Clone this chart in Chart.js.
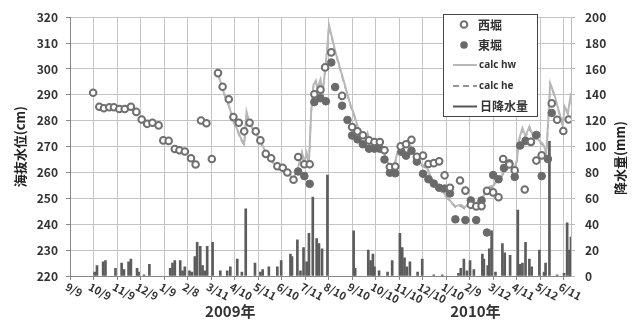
<!DOCTYPE html>
<html><head><meta charset="utf-8">
<script src="https://cdn.jsdelivr.net/npm/chart.js@4"></script>
<style>html,body{margin:0;padding:0;background:#fff;}</style>
</head><body>
<canvas id="c" width="640" height="320"></canvas>
<script>
// x values are days counted from 2008-09-09
const tickDays = [0,30,61,91,122,152,183,213,244,274,305,335,366,396,427,457,488,518,549,579,610,640];
const tickLabels = ['9/9','10/9','11/9','12/9','1/9','2/8','3/11','4/10','5/11','6/10','7/11','8/10','9/10','10/10','11/10','12/10','1/10','2/9','3/12','4/11','5/12','6/11'];
const yearLabels = ['2009年','2010年'];
const yearDays = [208, 526];

const westDays = [30,38,44,51,57,64,71,79,86,93,100,107,115,121,128,136,142,149,157,163,170,177,184,192,198,206,212,219,226,233,241,247,254,261,269,276,282,290,296,304,311,317,325,331,339,353,366,373,380,388,395,402,408,415,422,429,436,443,450,458,465,472,479,486,493,506,513,520,527,534,541,549,556,562,570,577,590,598,605,612,625,632,640,647];
const westLevel = [290.8,285.4,284.8,285.2,285.2,284.5,284.5,285.4,283.4,280.5,278.8,279.2,278.2,272.4,272.2,269.1,268.6,268.1,265.5,263.1,280.1,279.0,265.2,298.4,293.1,288.3,281.4,279.2,275.9,279.2,275.9,272.4,267.2,265.5,262.4,261.8,260.0,257.2,266.0,263.2,263.2,290.2,292.0,300.6,306.4,289.6,277.6,275.9,274.4,272.4,271.8,271.8,268.6,262.1,262.3,270.1,270.9,272.6,266.1,266.5,263.3,263.6,264.3,258.9,254.1,256.9,253.0,247.5,246.9,247.0,252.9,252.3,250.4,265.2,263.1,260.8,253.4,271.9,264.6,266.6,286.7,280.4,276.0,280.5];

const eastDays = [296,304,311,317,325,332,339,344,353,360,366,373,380,388,395,402,408,415,422,430,436,443,450,458,465,472,479,486,493,500,513,520,527,534,541,549,556,563,570,577,584,591,598,605,612,620,625];
const eastLevel = [260.4,258.6,255.6,287.2,288.7,287.5,302.5,293.0,285.8,280.3,274.3,272.8,270.9,269.2,269.2,269.2,265.0,259.9,259.7,268.0,266.5,268.4,264.2,259.5,257.4,255.7,254.1,253.8,251.9,241.9,241.6,249.2,241.6,249.2,236.8,259.0,257.4,261.7,263.5,258.3,270.4,272.2,271.8,274.5,258.6,265.2,283.0];

const calcHwDays = [192,198,205,212,218,222,226,229,233,240,247,254,261,269,276,283,290,296,301,304,307,310,313,316,319,321,325,328,330,333,336,344,355,364,368,371,375,379,383,386,390,394,398,402,407,412,417,421,425,430,436,443,450,457,463,468,474,481,489,496,500,507,512,516,520,525,531,537,544,550,554,559,565,570,576,580,582,587,591,596,601,606,610,614,618,621,623,628,635,639,642,646,650];
const calcHw = [298.5,292,287,280,276,273,271,283.5,279,276,272.5,267.5,265,262,261,259.5,257.6,262,268,264,267.7,264,284,294,295.5,292.3,296,291,297,305.6,317,307,295.5,286,283,280,276,275,272.8,275.3,271.5,272.2,270,270.5,268,264,262,263,268,270,271,270,265,263,262,258.3,256,253.2,250.7,248.1,247,247.5,246.5,247.5,248.8,248,249,251.3,254.5,255,257.6,258,262,263,261,265,272.3,277.2,274,277.8,274,273,272,270.9,267.7,283,294.5,290.5,283,278.4,285.4,283,290.7];
const calcHeDays = [192,198,205,212,218,222,226,229,233,240,247,254,261,269,276,283,290,296,301,304,307,310,313,316,319,321,325,328,330,333,336,344,355,364,368,371,375,379,383,386,390,394,398,402,407,412,417,421,425,430,436,443,450,457,463,468,474,481,489,496,500,507,512,516,520,525,531,537,544,550,554,559,565,570,576,580,582,587,591,596,601,606,610,614,618,621,623,628,635,639,642,646,650];
const calcHe = [298,291.5,286.5,279.5,275.5,272.5,270.5,283,278.5,275.5,272,267,264.5,261.5,260.5,259,257,261.5,267,263.5,267,263.5,283.5,293.5,295,292,295.5,290.5,296.5,305,316.5,306.5,295,285.5,282.5,279.5,275.5,274.5,272.3,274.8,271,271.7,269.5,270,267.5,263.5,261.5,262.5,267.5,269.5,270.5,269.5,264.5,262.5,261.5,258,255.5,252.8,250.2,247.8,246.5,247,246,247,248.5,247.5,248.5,251,254,254.5,257,257.5,261.5,262.5,260.5,264.5,271.5,276.5,273.5,277,273.5,272.5,271.5,270.5,267,282.5,294,290,282.5,278,285,282.5,290];

const rainDays = [32,35,43,46,59,67,70,76,79,87,89,96,103,130,133,136,143,146,149,155,158,162,165,169,172,175,178,185,195,204,208,217,223,228,240,247,250,258,269,274,286,288,295,299,303,307,310,315,320,323,327,334,368,370,387,390,393,395,401,412,418,428,431,434,437,441,451,457,472,483,504,507,511,515,519,524,535,537,542,544,547,552,561,564,571,581,584,587,591,596,599,609,615,617,622,632,641,645,648,650];
const rainMM = [3,8,11,12,6,10,5,11,13,6,3,1,9,6,10,12,12,4,7,4,3,15,26,23,8,4,23,26,4,4,7,13,3,52,10,3,5,7,7,12,17,15,28,4,22,11,33,61,29,25,21,78,35,6,20,12,17,7,4,3,12,33,22,14,7,11,3,13,1,1,2,6,13,4,12,5,17,13,8,21,35,3,25,18,16,51,9,10,26,13,7,20,3,10,104,1,2,41,20,30];

const FONT = "'Noto Sans CJK JP', 'Noto Sans', sans-serif";
const pts = (xs, ys) => xs.map((x, i) => ({x: x, y: ys[i]}));

const overlay = {
  id: 'overlay',
  afterDraw(chart) {
    const ctx = chart.ctx;
    const xs = chart.scales.x;
    ctx.save();
    // rotated date labels
    ctx.fillStyle = '#333';
    ctx.font = "bold 11px " + FONT;
    ctx.textAlign = 'left';
    ctx.textBaseline = 'top';
    tickDays.forEach((d, i) => {
      const px = xs.getPixelForValue(d);
      ctx.save();
      ctx.translate(px - 1, 281);
      ctx.rotate(28 * Math.PI / 180);
      ctx.fillText(tickLabels[i], 0, 0);
      ctx.restore();
    });
    // year labels
    ctx.font = "bold 15px " + FONT;
    ctx.textAlign = 'center';
    ctx.textBaseline = 'middle';
    yearDays.forEach((d, i) => ctx.fillText(yearLabels[i], xs.getPixelForValue(d), 311));
    // right axis title
    ctx.save();
    ctx.translate(620, 158);
    ctx.rotate(-Math.PI / 2);
    ctx.font = "bold 13px " + FONT;
    ctx.fillStyle = '#222';
    ctx.fillText('降水量(mm)', 0, 0);
    ctx.restore();
    // legend box
    ctx.fillStyle = '#fff';
    ctx.fillRect(443, 14, 94, 102);
    ctx.strokeStyle = '#444';
    ctx.lineWidth = 1;
    ctx.strokeRect(443.5, 14.5, 94, 102);
    ctx.textAlign = 'left';
    ctx.textBaseline = 'middle';
    // 西堀
    ctx.beginPath(); ctx.arc(464, 24.5, 3.3, 0, Math.PI * 2);
    ctx.strokeStyle = '#707070'; ctx.lineWidth = 2; ctx.stroke();
    ctx.fillStyle = '#333'; ctx.font = "bold 12px " + FONT;
    ctx.fillText('西堀', 478, 25);
    // 東堀
    ctx.beginPath(); ctx.arc(464, 45, 3.8, 0, Math.PI * 2);
    ctx.fillStyle = '#6a6a6a'; ctx.fill();
    ctx.fillStyle = '#333';
    ctx.fillText('東堀', 478, 45.5);
    // calc hw
    ctx.beginPath(); ctx.moveTo(453, 65); ctx.lineTo(477, 65);
    ctx.strokeStyle = '#b8b8b8'; ctx.lineWidth = 2; ctx.stroke();
    ctx.font = "bold 10px 'Open Sans', sans-serif";
    ctx.fillStyle = '#333';
    ctx.fillText('calc hw', 479, 65);
    // calc he
    ctx.beginPath(); ctx.setLineDash([6, 4]); ctx.moveTo(453, 86); ctx.lineTo(477, 86);
    ctx.strokeStyle = '#959595'; ctx.stroke(); ctx.setLineDash([]);
    ctx.fillText('calc he', 479, 86);
    // 日降水量
    ctx.beginPath(); ctx.moveTo(453, 106.5); ctx.lineTo(477, 106.5);
    ctx.strokeStyle = '#555'; ctx.lineWidth = 2; ctx.stroke();
    ctx.font = "bold 12px " + FONT;
    ctx.fillText('日降水量', 480, 106.5);
    ctx.restore();
  }
};

new Chart(document.getElementById('c'), {
  type: 'scatter',
  data: {
    datasets: [
      { label: '西堀', data: pts(westDays, westLevel), yAxisID: 'y', order: 1,
        pointRadius: 3.3, pointBorderWidth: 2, borderColor: '#707070', backgroundColor: '#ffffff' },
      { label: '東堀', data: pts(eastDays, eastLevel), yAxisID: 'y', order: 2,
        pointRadius: 3.8, pointBorderWidth: 1, borderColor: '#6a6a6a', backgroundColor: '#6a6a6a' },
      { label: 'calc hw', data: pts(calcHwDays, calcHw), yAxisID: 'y', order: 3, showLine: true,
        pointRadius: 0, borderColor: '#b8b8b8', borderWidth: 2, tension: 0 },
      { label: 'calc he', data: pts(calcHeDays, calcHe), yAxisID: 'y', order: 4, showLine: true,
        pointRadius: 0, borderColor: '#959595', borderWidth: 1.5, borderDash: [6, 4], tension: 0 },
      { type: 'bar', label: '日降水量', data: pts(rainDays, rainMM), yAxisID: 'y2', order: 5,
        backgroundColor: '#5c5c5c', borderWidth: 0, barThickness: 2 }
    ]
  },
  options: {
    responsive: false, animation: false, devicePixelRatio: 1,
    layout: { padding: { top: 12, left: 0, right: 0, bottom: 0 } },
    plugins: { legend: { display: false }, tooltip: { enabled: false } },
    scales: {
      x: { type: 'linear', min: 0, max: 650, offset: false, position: 'bottom',
        afterBuildTicks: s => { s.ticks = tickDays.map(v => ({ value: v })); },
        afterFit: s => { s.height = 44; },
        ticks: { display: false },
        grid: { color: '#c4c4c4', lineWidth: 1, tickLength: 4, tickColor: '#888', offset: false },
        border: { color: '#888', width: 1 } },
      y: { min: 220, max: 320, position: 'left',
        afterFit: s => { s.width = 70; },
        ticks: { stepSize: 10, color: '#333', padding: 8, font: { family: FONT, size: 12, weight: 'bold' } },
        grid: { color: '#c4c4c4', lineWidth: 1, tickLength: 4, tickColor: '#888' },
        border: { color: '#888', width: 1 },
        title: { display: true, text: '海抜水位(cm)', color: '#222', padding: { top: 12 },
          font: { family: FONT, size: 13, weight: 'bold' } } },
      y2: { min: 0, max: 200, position: 'right',
        afterFit: s => { s.width = 69; },
        ticks: { stepSize: 20, color: '#333', padding: 10, font: { family: FONT, size: 12, weight: 'bold' } },
        grid: { drawOnChartArea: false, tickLength: 4, tickColor: '#bbb' },
        border: { color: '#bbb', width: 1 } }
    }
  },
  plugins: [overlay]
});
</script>
</body></html>
